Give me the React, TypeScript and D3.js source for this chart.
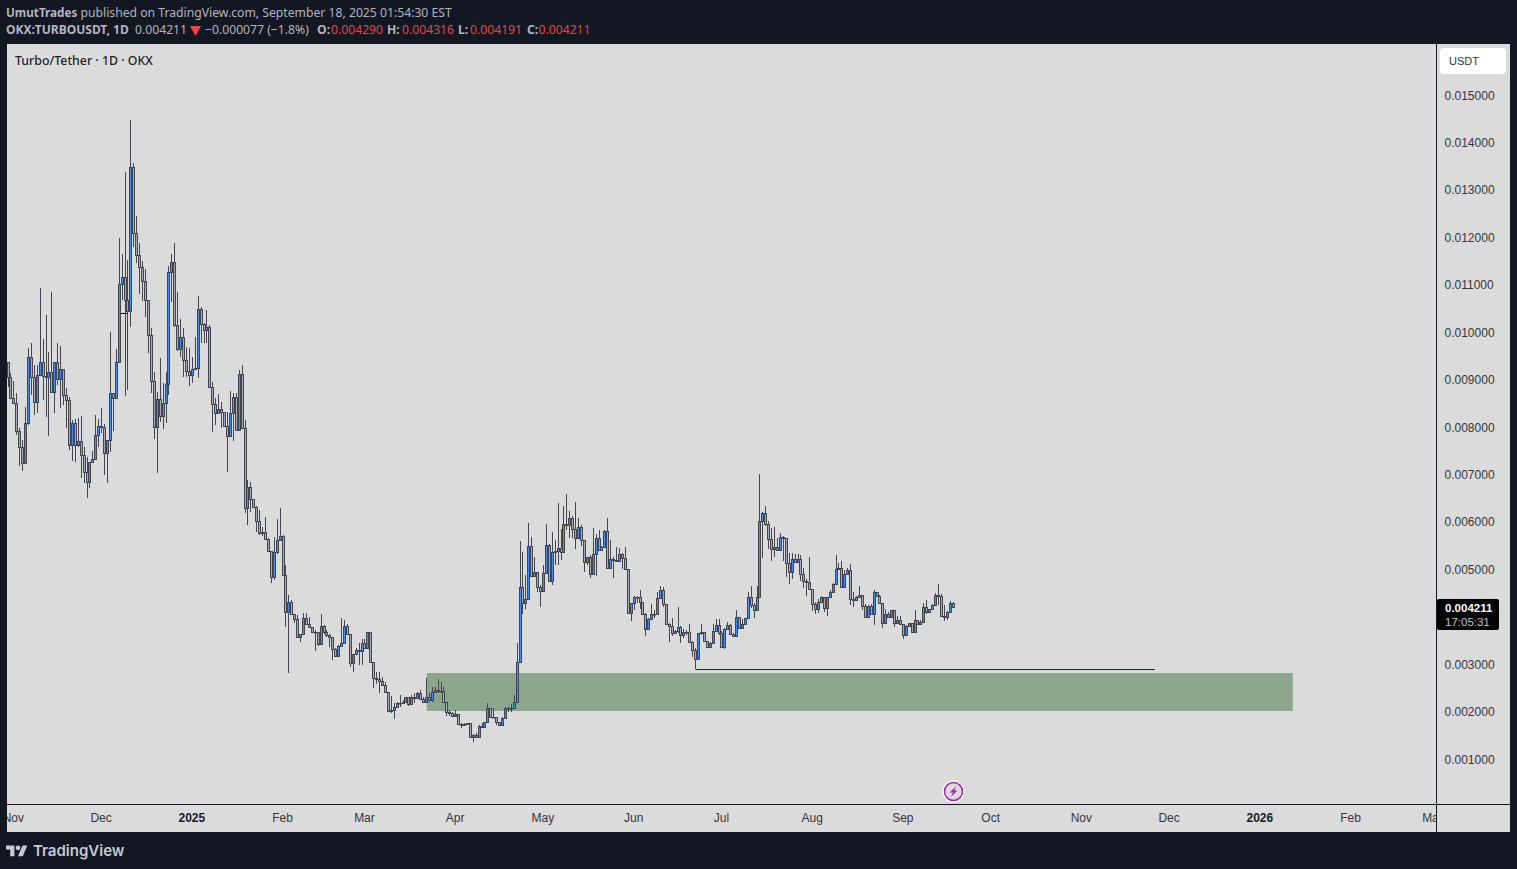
import React, { useEffect } from "react";
import * as d3 from "d3";

// Prices are in millionths of a USDT. Daily candles, first one is 2024-10-30.
const firstOpen = 9386;
const closes = [
  9056,8613,8508,7924,7594,7242,8100,9492,9056,8543,9098,9386,9084,9070,9175,8740,9372,9014,9225,8683,
  8578,7629,8086,7629,7713,7418,7067,6841,7263,7327,7840,8037,8002,7453,7734,8719,8613,9372,11017,11179,
  10680,10455,13485,12093,11629,11376,11081,10680,9942,8972,8002,8592,8241,8508,8908,11270,11481,10153,9647,9900,
  9415,9197,9098,9225,9246,10490,10181,10054,10125,8845,8487,8297,8381,8318,8037,7819,8297,8634,7945,9126,
  7980,6297,6740,6487,6333,6037,5770,5791,5644,5405,4842,5369,5630,5714,4899,4104,4315,4069,3963,3591,
  3647,3978,3851,3802,3682,3696,3429,3823,3696,3626,3577,3324,3190,3394,3450,3816,3640,3029,3218,3310,
  3289,3464,3345,3682,3050,2712,2698,2663,2571,2431,2030,2044,2115,2199,2185,2220,2311,2171,2326,2290,
  2396,2276,2206,2326,2255,2431,2466,2452,2445,2206,1995,1974,1925,1953,1742,1728,1742,1763,1482,1517,
  1468,1707,1679,1784,2079,1904,1890,1784,1728,1869,2094,2079,2094,2220,3064,4630,4293,4377,5502,4869,
  4961,4645,4553,4926,5516,4771,5383,5404,5467,5383,5959,5945,6086,5854,5664,5896,5629,5172,5263,4905,
  5326,5664,5418,5488,5818,5045,5221,5207,5193,5326,5256,5024,4096,4293,4434,4420,4314,4061,3745,3956,
  4075,4061,4398,4574,4272,3850,3815,3674,3702,3801,3618,3695,3681,3484,3309,3112,3660,3681,3492,3379,
  3449,3717,3829,3660,3365,3752,3836,3639,3611,3998,3766,3857,3977,4434,4265,4152,4420,6036,6191,5959,
  5643,5432,5488,5418,5685,5664,5137,4954,5221,5158,5221,4905,4757,4743,4588,4286,4166,4328,4420,4188,
  4420,4525,4694,5010,5045,4645,4905,4989,4377,4363,4434,4462,4237,4012,4237,4061,4525,4455,4293,3871,
  4075,4012,4145,3871,3941,3857,3618,3815,3871,3681,3934,3850,3906,4209,4117,4166,4258,4469,4448,4026,
  3998,4117,4290,4211,
];
const highs = [
  9386,9140,8986,8719,7980,7734,8437,9668,9773,9316,9316,10933,9857,10371,9597,10849,9372,9773,9717,9225,
  8824,8648,8156,8170,8191,8241,7594,7383,7277,7509,8262,8177,8402,8072,7734,10005,8719,9654,11988,11657,
  13379,11531,14483,13569,12459,11882,11502,11341,10680,10089,9175,8740,9457,8929,9175,11404,11657,11882,10849,10286,
  10089,9703,9668,9492,9900,10771,10532,10195,10476,10160,8965,8627,8705,8543,8318,8332,8775,8719,8719,9211,
  9316,8156,6891,6856,6438,6347,6262,5911,6122,5665,5405,5700,6065,6297,5735,5102,4470,4364,4048,4048,
  3647,4083,4083,4013,3802,3731,3696,4062,3837,3731,3647,3577,3345,3415,3978,3942,3858,3640,3218,3345,
  3450,3535,3535,3696,3696,3064,2853,2853,2747,2642,2431,2340,2185,2220,2361,2255,2326,2326,2361,2396,
  2431,2466,2326,2712,2396,2522,2536,2691,2642,2522,2220,2044,2009,2044,1953,1763,1777,1777,1763,1538,
  1552,1728,1763,1798,2185,2079,2079,1904,1798,1904,2101,2115,2171,2361,3450,5608,5369,4890,5980,5699,
  5277,4961,4680,5101,5959,5544,5790,5629,6409,5854,6346,6599,6240,6135,6423,6086,5945,5629,5277,5312,
  5875,5748,5840,5502,5840,6086,5629,5263,5488,5453,5347,5474,5024,4293,4448,4448,4574,4314,4082,3977,
  4272,4152,4539,4652,4645,4272,3871,3977,3731,4223,3815,3745,3731,3850,3499,3344,3674,3857,3695,3506,
  3484,3857,3963,3963,3702,3766,3906,3857,3660,4152,4012,3963,3977,4539,4659,4293,4659,7021,6226,6346,
  6029,5875,5910,5664,5769,5720,5664,5347,5347,5326,5326,5312,5031,4799,5263,4588,4328,4377,4448,4434,
  4420,4574,4715,5312,5151,5186,4996,5031,5123,4539,4448,4659,4469,4279,4258,4279,4574,4539,4469,4293,
  4166,4117,4152,4145,4033,4026,3857,3836,3885,3885,4152,3941,3941,4293,4363,4166,4279,4518,4701,4483,
  4258,4138,4342,4316,
];
const lows = [
  8845,8613,8508,7840,7193,7088,7242,8051,8683,8262,8297,9098,8578,8227,7826,8740,8311,8900,8402,8473,
  7980,7523,7298,7277,7594,6926,6821,6504,6715,7242,7313,7580,7875,6996,6834,7488,7924,8613,9372,10687,
  8669,8789,10125,11812,11474,10813,10673,10335,9562,8719,7756,7031,8121,7966,8100,8683,10652,10125,9618,9492,
  9070,9070,8880,8943,9225,9049,9773,9773,9787,8845,7910,8051,8297,7980,8037,7067,7805,7720,7931,7959,
  7959,6206,5946,6227,6333,5805,5735,5714,5630,5405,4730,4786,5334,5608,4891,3802,2818,4048,3872,3577,
  3485,3626,3837,3802,3661,3296,3401,3415,3647,3591,3380,3099,3169,3190,3380,3436,3626,2958,2853,3204,
  2993,2993,3345,3345,3029,2515,2593,2396,2571,2396,2009,1974,1862,2094,2115,2171,2199,2136,2150,2185,
  2276,2269,2199,2185,2220,2220,2396,2396,2396,2199,1925,1925,1890,1925,1728,1658,1728,1728,1468,1376,
  1461,1447,1679,1672,1784,1904,1890,1728,1707,1714,1862,2009,2009,2079,2206,3063,4068,4173,4363,4841,
  4855,4539,4223,4539,4926,4771,4680,5101,5101,5207,5383,5840,5678,5664,5439,5664,5502,4961,5101,4834,
  4891,4877,5418,5418,5488,5031,5045,4834,5193,5207,5024,5017,4082,3927,4152,4293,4166,4047,3604,3731,
  3942,3977,4047,4377,4209,3836,3484,3611,3660,3660,3449,3555,3625,3470,3168,2901,3098,3625,3477,3358,
  3358,3435,3709,3625,3365,3323,3731,3625,3590,3597,3752,3752,3836,3963,4188,3977,4138,4420,5256,5931,
  5439,5193,5277,5404,5404,5193,4855,4701,4799,5158,5158,4764,4623,4448,4588,4138,4068,4096,4307,4117,
  4033,4405,4518,4680,4996,4630,4645,4891,4258,4223,4349,4434,4152,3998,4012,4047,3836,4448,4279,3780,
  3857,3998,3998,3787,3857,3857,3541,3611,3787,3660,3674,3836,3836,3906,4068,4082,4152,4258,4258,4012,
  3920,3941,4096,4191,
];

const priceTicks = [1000,2000,3000,4000,5000,6000,7000,8000,9000,10000,11000,12000,13000,14000,15000];
const timeTickLabels = ["Nov","Dec","2025","Feb","Mar","Apr","May","Jun","Jul","Aug","Sep","Oct","Nov","Dec","2026","Feb","Mar"];
const timeTickDays = [2,32,63,94,122,153,183,214,244,275,306,336,367,397,428,459,487];
const boldTimeLabels = ["2025","2026"];

const zoneDays = [143, 439];
const zonePrices = [2826, 2025];
const supportDays = [235, 392];
const supportPrice = 2905;
const tickDays = [38.5, 41];
const tickPrice = 10409;

const headerQuote = [
  { t: "O:", x: 317, v: false }, { t: "0.004290", x: 331, v: true },
  { t: "H:", x: 387, v: false }, { t: "0.004316", x: 402, v: true },
  { t: "L:", x: 458, v: false }, { t: "0.004191", x: 470, v: true },
  { t: "C:", x: 527, v: false }, { t: "0.004211", x: 538.5, v: true },
];

const BG = "#131722";
const PANEL = "#dbdbdb";
const HEAD = "Noto Sans, sans-serif";
const AXIS = "Liberation Sans, Arial, sans-serif";

export default function App() {
  useEffect(() => {
    document.body.style.margin = "0";
    document.body.style.overflow = "hidden";
  }, []);

  const x = d3.scaleLinear().domain([0, 487]).range([8, 8 + 2.926 * 487]);
  const y = d3.scaleLinear().domain([1000, 15000]).range([759.5, 95.5]);

  const candles = closes.map((c, i) => {
    const o = i === 0 ? firstOpen : closes[i - 1];
    return { i, o, c, h: Math.max(highs[i], o, c), l: Math.min(lows[i], o, c) };
  });

  return (
    <svg width={1517} height={869} style={{ position: "fixed", left: 0, top: 0, display: "block" }}>
      <defs>
        <clipPath id="pane"><rect x={7} y={44} width={1429} height={760} /></clipPath>
        <clipPath id="timeAxis"><rect x={7} y={805} width={1429} height={27} /></clipPath>
      </defs>
      <rect width={1517} height={869} fill={BG} />
      <rect x={7} y={44} width={1503} height={788} fill={PANEL} />

      <g clipPath="url(#pane)">
        <rect
          x={x(zoneDays[0]) + 0.3}
          y={Math.round(y(zonePrices[0]))}
          width={x(zoneDays[1]) - x(zoneDays[0])}
          height={Math.round(y(zonePrices[1])) - Math.round(y(zonePrices[0]))}
          fill="#8ca68d"
        />
        <line
          x1={x(supportDays[0])} x2={x(supportDays[1])}
          y1={Math.floor(y(supportPrice)) + 0.5} y2={Math.floor(y(supportPrice)) + 0.5}
          stroke="#0d3029" strokeWidth={1}
        />
        <line
          x1={x(tickDays[0])} x2={x(tickDays[1])}
          y1={Math.floor(y(tickPrice)) + 0.5} y2={Math.floor(y(tickPrice)) + 0.5}
          stroke="#000" strokeWidth={1}
        />
        {candles.map((d) => {
          const cx = Math.floor(x(d.i));
          return (
            <line key={"w" + d.i} x1={cx + 0.5} x2={cx + 0.5}
              y1={Math.round(y(d.h))} y2={Math.round(y(d.l))}
              stroke="#434551" strokeWidth={1} />
          );
        })}
        {candles.map((d) => {
          const cx = Math.floor(x(d.i));
          const top = Math.round(y(Math.max(d.o, d.c)));
          const bot = Math.round(y(Math.min(d.o, d.c)));
          return (
            <rect key={"b" + d.i} x={cx - 0.5} y={top + 0.5} width={2} height={Math.max(bot - top, 0.5)}
              fill={d.c >= d.o ? "#3f8ff2" : "#a6a8b1"} stroke="#434551" strokeWidth={1} />
          );
        })}
        <circle cx={953.5} cy={791.5} r={9.5} fill={PANEL} stroke="#fff" strokeWidth={3} />
        <circle cx={953.5} cy={791.5} r={9} fill={PANEL} stroke="#9c27b0" strokeWidth={1.5} />
        <path d="M956.2 786 L949.8 792.4 L953 792.4 L951 797 L957.4 790.6 L954.2 790.6 Z" fill="#9c27b0" />
      </g>

      {/* pane borders */}
      <line x1={1436.5} x2={1436.5} y1={44} y2={832} stroke={BG} strokeWidth={1} />
      <line x1={7} x2={1510} y1={804.5} y2={804.5} stroke={BG} strokeWidth={1} />

      {/* price axis */}
      {priceTicks.map((p) => (
        <text key={p} x={1444.5} y={y(p) - 0.3} dy="0.36em" fontFamily={AXIS} fontSize={12} fill="#333640">
          {(p / 1e6).toFixed(6)}
        </text>
      ))}
      <rect x={1440} y={48} width={66} height={26} rx={4} fill="#fff" />
      <text x={1449} y={65} fontFamily={AXIS} fontSize={11} fill="#333640">USDT</text>

      {/* last price label */}
      <rect x={1437} y={599} width={62} height={31} rx={2} fill="#000" />
      <text x={1445} y={611.5} fontFamily={AXIS} fontSize={11.5} fontWeight={700} fill="#fff">0.004211</text>
      <text x={1445} y={626} fontFamily={AXIS} fontSize={11.5} fill="#c4c6cc">17:05:31</text>

      {/* time axis */}
      <g clipPath="url(#timeAxis)">
        {timeTickLabels.map((t, i) => (
          <text key={i} x={x(timeTickDays[i]) - 0.5} y={821.5} textAnchor="middle" fontFamily={AXIS} fontSize={12}
            fontWeight={boldTimeLabels.includes(t) ? 700 : 400} fill={boldTimeLabels.includes(t) ? "#1a1c24" : "#333640"}>
            {t}
          </text>
        ))}
      </g>

      {/* header */}
      <text x={6} y={17} fontFamily={HEAD} fontSize={11.7} fontWeight={700} fill="#b2b5be">UmutTrades</text>
      <text x={80.5} y={17} fontFamily={HEAD} fontSize={12.2} fill="#b2b5be">published on TradingView.com, September 18, 2025 01:54:30 EST</text>
      <text x={6} y={34} fontFamily={HEAD} fontSize={12} fontWeight={700} fill="#b2b5be">OKX:TURBOUSDT, 1D</text>
      <text x={135} y={34} fontFamily={HEAD} fontSize={12.2} fill="#b2b5be">0.004211</text>
      <path d="M190 26 H201 L195.5 36 Z" fill="#ef4444" />
      <text x={205} y={34} fontFamily={HEAD} fontSize={12.2} fill="#b2b5be">−0.000077 (−1.8%)</text>
      {headerQuote.map((q) => (
        <text key={q.t + q.x} x={q.x} y={34} fontFamily={HEAD} fontSize={12.2}
          fontWeight={q.v ? 400 : 700} fill={q.v ? "#e0484a" : "#b2b5be"}>{q.t}</text>
      ))}
      <text x={15} y={65} fontFamily={HEAD} fontSize={12.35} fontWeight={500} fill="#1f2129">Turbo/Tether · 1D · OKX</text>

      {/* logo */}
      <g transform="translate(6,843) scale(0.6)" fill="#c8cad0">
        <path d="M14 22H7V11H0V4h14v18zM28 22h-8l7.5-18h8L28 22z" />
        <circle cx={20} cy={8} r={4} />
      </g>
      <text x={33} y={856} fontFamily="Inter, sans-serif" fontSize={15} fontWeight={600} fill="#c8cad0">TradingView</text>
    </svg>
  );
}
